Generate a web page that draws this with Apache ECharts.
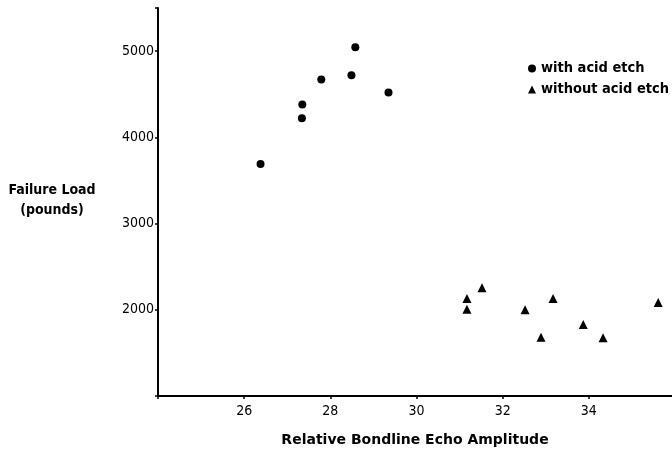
<!DOCTYPE html>
<html>
<head>
<meta charset="utf-8">
<script src="https://cdn.jsdelivr.net/npm/echarts@6/dist/echarts.min.js"></script>
<style>html,body{margin:0;padding:0;background:#fff}#c{width:672px;height:452px}</style>
</head>
<body>
<div id="c"></div>
<script>
var withEtchX = [26.38, 27.34, 27.35, 27.79, 28.49, 28.58, 29.35];
var withEtchY = [3690, 4220, 4380, 4670, 4720, 5045, 4520];
var withoutEtchX = [31.17, 31.17, 31.52, 32.52, 32.89, 33.17, 33.87, 34.33, 35.61];
var withoutEtchY = [2130, 2005, 2255, 2000, 1680, 2130, 1830, 1675, 2085];
var xTickLabels = [26, 28, 30, 32, 34];
var yTickLabels = [2000, 3000, 4000, 5000];

function pairs(xs, ys) { return xs.map(function (x, i) { return [x, ys[i]]; }); }
var FONT = 'DejaVu Sans Condensed';
var chart = echarts.init(document.getElementById('c'));
chart.setOption({
  animation: false,
  backgroundColor: '#fff',
  textStyle: { fontFamily: FONT, color: '#000' },
  grid: { left: 158, right: 0, top: 8, bottom: 52, containLabel: false },
  legend: {
    orient: 'vertical', left: 528, top: 61, padding: 0, itemWidth: 8, itemHeight: 8, itemGap: 6,
    textStyle: { fontFamily: FONT, fontSize: 14.5, color: '#000', fontWeight: 'bold' },
    data: [{ name: 'with acid etch', icon: 'circle' }, { name: 'without acid etch', icon: 'triangle' }]
  },
  xAxis: {
    type: 'value', min: 24, max: 35.93, interval: 2,
    name: 'Relative Bondline Echo Amplitude', nameLocation: 'middle', nameGap: 37,
    nameTextStyle: { fontFamily: 'DejaVu Sans', fontSize: 14, color: '#000', fontWeight: 'bold' },
    axisLine: { lineStyle: { color: '#000', width: 2 } },
    axisTick: { show: true, length: 3, lineStyle: { color: '#000', width: 1.5 } },
    splitLine: { show: false },
    axisLabel: {
      color: '#000', fontFamily: FONT, fontSize: 14, margin: 8, showMaxLabel: false,
      formatter: function (v) { return xTickLabels.indexOf(v) >= 0 ? String(v) : ''; }
    }
  },
  yAxis: {
    type: 'value', min: 1000, max: 5500, interval: 1000,
    axisLine: { show: true, lineStyle: { color: '#000', width: 2 } },
    axisTick: { show: true, length: 3, lineStyle: { color: '#000', width: 1.5 } },
    splitLine: { show: false },
    axisLabel: {
      color: '#000', fontFamily: FONT, fontSize: 14, margin: 4,
      formatter: function (v) { return yTickLabels.indexOf(v) >= 0 ? String(v) : ''; }
    }
  },
  graphic: [{
    type: 'text', position: [52, 180],
    style: { text: 'Failure Load\n(pounds)', fontFamily: FONT, fontSize: 14, fontWeight: 'bold', fill: '#000', align: 'center', lineHeight: 20 }
  }],
  series: [
    { name: 'with acid etch', type: 'scatter', symbol: 'circle', symbolSize: 8,
      itemStyle: { color: '#000', opacity: 1 }, data: pairs(withEtchX, withEtchY) },
    { name: 'without acid etch', type: 'scatter', symbol: 'triangle', symbolSize: 9,
      itemStyle: { color: '#000', opacity: 1 }, data: pairs(withoutEtchX, withoutEtchY) }
  ]
});
</script>
</body>
</html>
